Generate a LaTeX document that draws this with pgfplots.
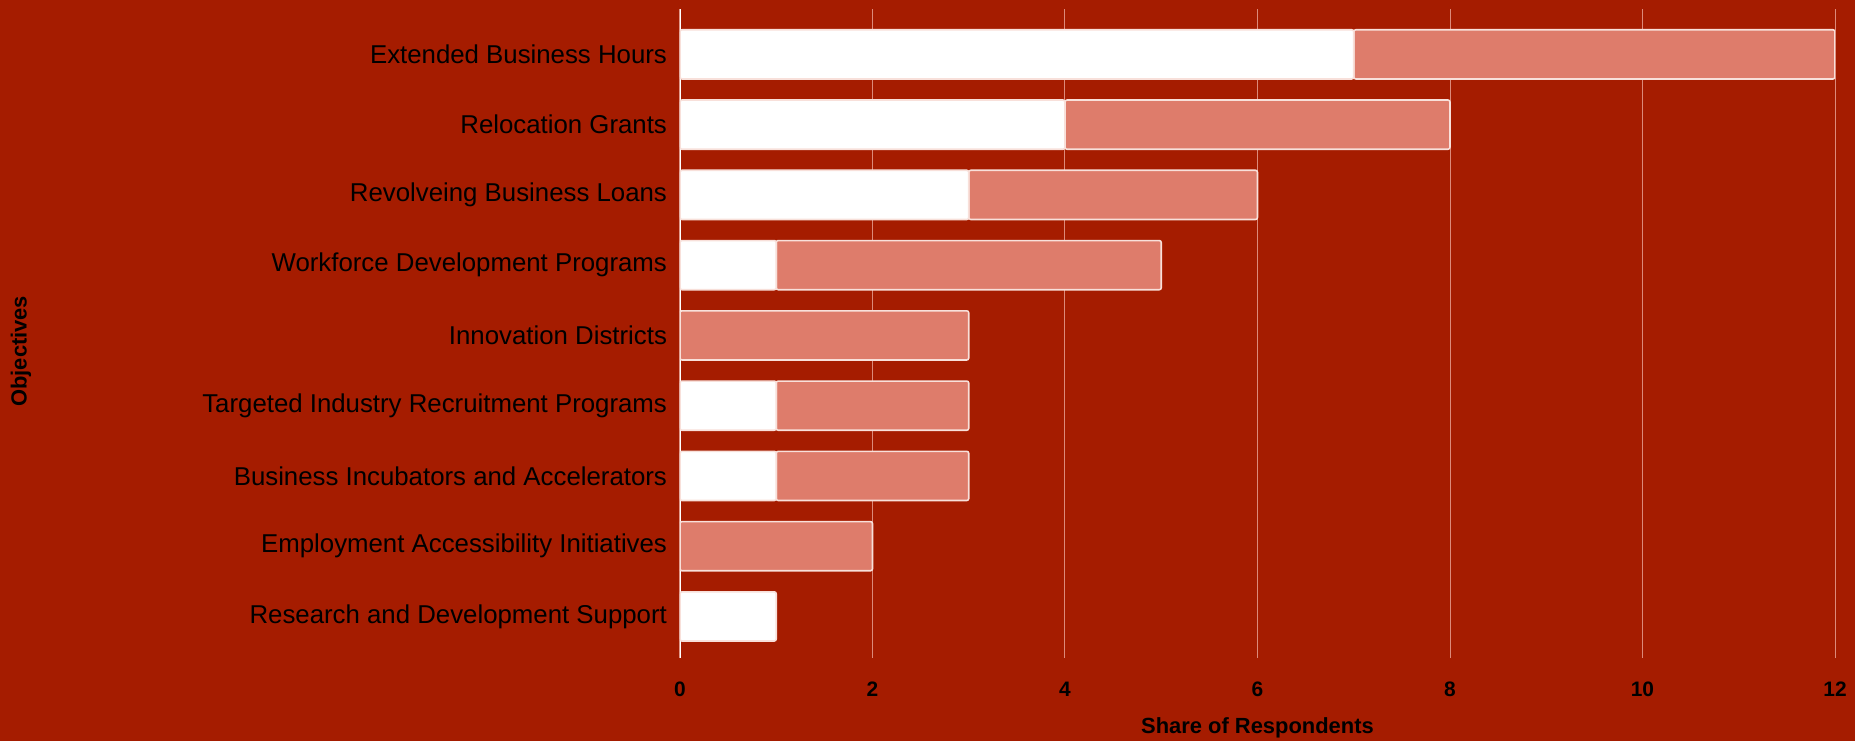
\documentclass[border=0pt]{standalone}
\usepackage{pgfplots}
\pgfplotsset{compat=1.18}
\usepackage{fontspec}
\setmainfont{Liberation Sans}
\definecolor{bg}{HTML}{A51C00}
\definecolor{sal}{HTML}{DE7C6B}
\definecolor{gridc}{HTML}{DC8A7A}
\definecolor{edge}{HTML}{F8E0DA}
\begin{document}
\begin{tikzpicture}
\fill[bg] (-340bp,-41.5bp) rectangle (587.5bp,329bp);
\begin{axis}[
  at={(0,0)}, anchor=south west,
  scale only axis, width=577.5bp, height=324.25bp,
  xmin=0, xmax=12, ymin=-0.592, ymax=8.639,
  xbar stacked, bar width=0.7,
  axis line style={draw=none},
  major tick length=0,
  xtick={0,2,4,6,8,10,12},
  xmajorgrids, grid style={gridc, line width=0.5bp},
  ytick={0,1,2,3,4,5,6,7,8},
  yticklabels={Research and Development Support, Employment Accessibility Initiatives, Business Incubators and Accelerators, Targeted Industry Recruitment Programs, Innovation Districts, Workforce Development Programs, Revolveing Business Loans, Relocation Grants, Extended Business Hours},
  yticklabel style={font=\fontsize{12.95}{15}\selectfont, black, xshift=-3bp},
  /pgf/number format/assume math mode=true,
  xticklabel style={font=\bfseries\fontsize{10.5}{12}\selectfont, black, anchor=center, yshift=-15.5bp},
  xlabel={Share of Respondents},
  xlabel style={font=\bfseries\fontsize{11}{13}\selectfont, black, inner sep=0pt, at={(axis description cs:0.5,0)}, anchor=base, yshift=-37.5bp},
  ylabel={Objectives},
  ylabel style={font=\bfseries\fontsize{11}{13}\selectfont, black, inner sep=0pt, at={(axis description cs:-0.5706,0.473)}, anchor=center},
  every axis plot/.append style={draw=edge, line width=0.8bp, rounded corners=1bp},
]
\addplot[fill=white] coordinates {(1,0) (0,1) (1,2) (1,3) (0,4) (1,5) (3,6) (4,7) (7,8)};
\addplot[fill=sal] coordinates {(0,0) (2,1) (2,2) (2,3) (3,4) (4,5) (3,6) (4,7) (5,8)};
\draw[white, line width=0.8bp] (axis cs:0,-0.592) -- (axis cs:0,8.639);
\end{axis}
\end{tikzpicture}
\end{document}
